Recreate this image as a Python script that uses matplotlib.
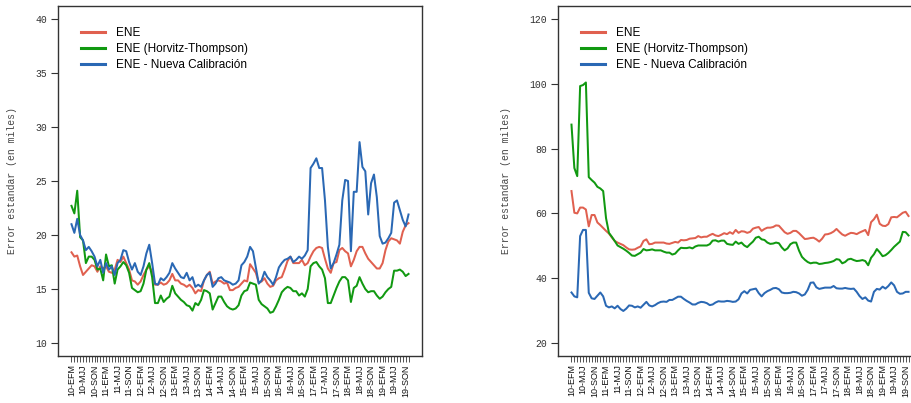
import matplotlib
matplotlib.use("Agg")
import matplotlib.pyplot as plt
import numpy as np

# ---- data ----
years = [str(y)[2:] for y in range(2010, 2020)]
trimestres = ["EFM", "FMA", "MAM", "AMJ", "MJJ", "JJA", "JAS", "ASO", "SON", "OND", "NDE", "DEF"]
periodos = [f"{y}-{t}" for y in years for t in trimestres][:118]

series_names = ["ENE", "ENE (Horvitz-Thompson)", "ENE - Nueva Calibración"]
colors = ["#E0604F", "#119911", "#2A68B4"]

left_ene = [18.4, 18.0, 18.1, 17.1, 16.3, 16.6, 16.9, 17.2, 17.1, 16.6, 17.1, 16.9, 17.1, 16.6, 16.5, 16.8,
            17.7, 17.5, 18.0, 17.4, 16.8, 15.8, 15.7, 15.4, 15.7, 16.3, 16.8, 17.1, 16.6, 15.4, 15.4, 15.6,
            15.4, 15.5, 15.8, 16.4, 15.8, 15.8, 15.5, 15.4, 15.2, 15.4, 15.1, 14.6, 14.9, 14.8, 15.8, 16.3,
            16.6, 15.5, 15.7, 15.8, 15.7, 15.5, 15.6, 14.9, 14.9, 15.1, 15.2, 15.5, 15.8,
            15.7, 17.3, 16.9, 16.5, 15.6, 15.7, 16.0, 15.5, 15.2, 15.3, 15.8, 16.0, 16.1, 16.8, 17.6, 18.0,
            17.4, 17.4, 17.4, 17.7, 17.2, 17.4, 18.0, 18.5, 18.8, 18.9, 18.8, 17.8, 16.9, 16.5, 17.4, 17.5,
            18.6, 18.8, 18.5, 18.3, 17.1, 17.7, 18.5, 18.9, 18.9, 18.3, 17.8, 17.5, 17.2, 16.9, 16.9, 17.4,
            18.6, 19.4, 19.7, 19.6, 19.5, 19.2, 20.3, 20.9, 21.1]
left_ht = [22.7, 22.0, 24.1, 19.8, 19.5, 17.4, 18.0, 18.0, 17.7, 16.8, 16.9, 15.8, 18.2, 17.1, 17.2, 15.5,
           16.8, 17.1, 17.5, 17.2, 16.5, 15.1, 14.9, 14.7, 14.8, 15.5, 16.8, 17.4, 16.1, 13.7, 13.7, 14.4,
           13.8, 14.1, 14.3, 15.3, 14.6, 14.3, 14.0, 13.8, 13.5, 13.4, 13.0, 13.7, 13.5, 14.0, 14.9, 14.8,
           14.6, 13.1, 13.7, 14.3, 14.3, 13.8, 13.4, 13.2, 13.1, 13.2, 13.5, 14.4, 14.8,
           14.9, 15.6, 15.5, 15.4, 14.0, 13.6, 13.4, 13.2, 12.8, 12.9, 13.4, 14.0, 14.7, 15.0, 15.2, 15.1,
           14.8, 14.8, 14.4, 14.6, 14.3, 15.0, 17.1, 17.4, 17.5, 17.1, 16.8, 16.0, 13.7, 13.7, 14.4, 15.1,
           15.7, 16.1, 16.1, 15.8, 13.8, 15.1, 15.3, 16.1, 15.5, 15.0, 14.7, 14.8, 14.8, 14.4, 14.1, 14.3,
           14.7, 15.0, 15.2, 16.7, 16.7, 16.8, 16.6, 16.2, 16.4]
left_nc = [21.0, 20.2, 21.5, 20.0, 19.5, 18.6, 18.9, 18.5, 18.0, 17.1, 17.7, 16.5, 17.4, 16.8, 17.1, 16.3,
           17.4, 17.7, 18.6, 18.5, 17.5, 16.8, 17.4, 16.6, 16.3, 17.1, 18.3, 19.1, 17.4, 15.5, 15.4, 16.0,
           15.8, 16.1, 16.5, 17.4, 16.9, 16.5, 16.1, 16.0, 16.5, 15.8, 16.1, 15.2, 15.4, 15.2, 15.8, 16.3,
           16.5, 15.2, 15.5, 16.0, 16.1, 15.8, 15.7, 15.6, 15.4, 15.5, 15.8, 17.2, 17.5,
           18.0, 18.9, 18.5, 17.0, 15.5, 15.8, 16.6, 16.1, 15.8, 15.4, 16.1, 17.0, 17.4, 17.7, 17.8, 18.0,
           17.5, 17.7, 18.0, 17.8, 18.1, 18.6, 26.2, 26.6, 27.1, 26.2, 26.2, 23.2, 18.9, 16.9, 17.4, 18.2,
           19.1, 23.2, 25.1, 25.0, 18.5, 24.0, 24.0, 28.6, 26.3, 25.9, 21.9, 24.8, 25.6, 23.5, 19.9, 19.2,
           19.3, 19.7, 20.2, 23.0, 23.2, 22.3, 21.4, 20.8, 21.9]

right_ene = [66.9, 60.2, 60.0, 61.8, 61.8, 61.2, 56.0, 59.5, 59.5, 57.2, 56.4, 55.5, 54.6, 53.8, 52.6, 51.5,
             51.0, 50.6, 50.2, 49.5, 48.9, 48.8, 48.9, 49.4, 49.8, 51.5, 52.0, 50.5, 50.6, 51.0, 51.0, 51.0,
             51.0, 50.7, 50.6, 50.9, 51.2, 51.0, 51.8, 51.7, 51.8, 52.2, 52.3, 52.4, 53.0, 52.6, 52.8, 52.8,
             53.3, 53.7, 53.2, 53.0, 53.4, 53.9, 53.6, 54.2, 53.7, 54.9, 54.0, 54.5, 54.4, 54.0, 54.3, 55.3,
             55.6, 55.8, 54.6, 55.2, 55.6, 55.6, 55.8, 56.3, 56.2, 55.2, 54.2, 53.7, 54.0, 54.6, 54.6, 53.9,
             53.0, 52.1, 52.2, 52.4, 52.5, 52.0, 51.3, 52.2, 53.5, 53.6, 53.9, 54.4, 55.2, 54.3, 53.5, 53.1,
             53.6, 54.0, 53.9, 53.6, 54.1, 54.5, 54.9, 53.3, 57.3, 58.2, 59.6, 56.8, 56.2, 56.1, 56.7, 58.8,
             58.9, 58.8, 59.5, 60.2, 60.5, 59.2]
right_ht = [87.4, 74.0, 71.5, 99.3, 99.6, 100.4, 71.2, 70.3, 69.5, 68.2, 67.7, 66.9, 58.5, 54.0, 52.8, 51.5,
            50.1, 49.6, 49.1, 48.5, 47.8, 47.0, 46.9, 47.4, 47.9, 49.0, 48.6, 48.7, 48.9, 48.6, 48.6, 48.6,
            48.2, 47.9, 47.9, 47.3, 47.6, 48.6, 49.4, 49.3, 49.3, 49.5, 49.2, 49.8, 50.1, 50.1, 50.1, 50.1,
            50.5, 51.6, 51.7, 51.3, 51.6, 51.6, 50.6, 50.4, 50.3, 51.3, 50.6, 51.0, 50.1, 49.6, 50.5, 51.3,
            52.5, 52.8, 52.0, 51.8, 51.0, 50.6, 50.7, 51.0, 50.8, 49.5, 48.6, 49.2, 50.5, 51.0, 51.0, 48.5,
            46.6, 45.7, 45.0, 44.6, 44.8, 44.8, 44.4, 44.5, 44.7, 44.8, 45.0, 45.3, 45.9, 45.7, 44.6, 45.0,
            45.8, 46.0, 45.6, 45.3, 45.4, 45.6, 45.3, 44.0, 46.3, 47.4, 49.0, 48.0, 46.8, 47.1, 47.8, 48.7,
            49.7, 50.5, 51.3, 54.3, 54.2, 53.2]
right_nc = [35.6, 34.4, 34.1, 53.0, 54.9, 54.9, 35.5, 33.8, 33.6, 34.6, 35.6, 34.4, 31.5, 31.0, 31.3, 30.7,
            31.5, 30.5, 29.9, 30.6, 31.6, 31.5, 31.0, 31.3, 30.9, 31.8, 32.7, 31.6, 31.3, 31.7, 32.3, 32.7,
            32.8, 32.7, 33.3, 33.3, 33.8, 34.3, 34.3, 33.6, 33.0, 32.5, 31.9, 31.9, 32.4, 32.7, 32.6, 32.3,
            31.7, 31.9, 32.5, 32.9, 32.8, 32.8, 33.0, 32.9, 32.7, 32.8, 33.5, 35.3, 36.0, 35.3, 36.4, 36.6,
            36.8, 35.4, 34.4, 35.4, 36.0, 36.4, 36.9, 37.0, 36.6, 35.6, 35.4, 35.4, 35.5, 35.8, 35.7, 35.3,
            34.6, 35.0, 36.4, 38.6, 38.7, 37.2, 36.7, 36.9, 37.1, 37.1, 37.1, 37.6, 36.9, 36.8, 36.8, 37.0,
            36.8, 36.7, 36.8, 35.8, 34.5, 33.6, 34.1, 33.1, 32.8, 35.8, 36.7, 36.5, 37.4, 36.8, 37.6, 38.7,
            37.8, 35.8, 35.2, 35.3, 35.8, 35.8]

left_yticks = [10, 15, 20, 25, 30, 35, 40]
right_yticks = [20, 40, 60, 80, 100, 120]

# ---- figure ----
W, H = 911, 403
fig = plt.figure(figsize=(W / 100, H / 100), dpi=100)

def make_axes(x0, x1, y_top, y_bot):
    return fig.add_axes([x0 / W, 1 - y_bot / H, (x1 - x0) / W, (y_bot - y_top) / H])

axL = make_axes(58, 422, 6, 356)
axR = make_axes(558, 922, 6, 356)

mono = "Liberation Mono"
x = np.arange(len(periodos))

for ax, data, yt in [(axL, [left_ene, left_ht, left_nc], left_yticks),
                     (axR, [right_ene, right_ht, right_nc], right_yticks)]:
    for vals, c, name in zip(data, colors, series_names):
        ax.plot(x[:len(vals)], vals, color=c, lw=1.45, label=name, solid_joinstyle="round")
    rng = yt[-1] - yt[0]
    ax.set_ylim(yt[0] - 0.04 * rng, yt[-1] + 0.04 * rng)
    n = len(periodos) - 1
    ax.set_xlim(-0.04 * n, n + 0.04 * n)
    ax.set_yticks(yt)
    ax.set_yticklabels([str(v) for v in yt], fontfamily=mono, fontsize=7, color="#333333")
    ax.set_xticks(x)
    ax.set_xticklabels([p if i % 4 == 0 else "" for i, p in enumerate(periodos)],
                       rotation=90, fontsize=6.5, fontfamily="Liberation Sans", color="#111111")
    ax.tick_params(axis="y", length=5, width=0.8, color="#333333", pad=3)
    ax.tick_params(axis="x", length=4, width=0.6, color="#333333", pad=2)
    for s in ax.spines.values():
        s.set_color("#333333")
        s.set_linewidth(1.0)
    ax.set_ylabel("Error estandar (en miles)", fontfamily=mono, fontsize=7, color="#444444", labelpad=13)
    leg = ax.legend(loc="upper left", frameon=False, handlelength=2.0,
                    handletextpad=0.95, labelspacing=0.32, bbox_to_anchor=(0.035, 0.97),
                    prop={"family": "Liberation Sans", "size": 8.5})
    for line in leg.get_lines():
        line.set_linewidth(2.2)

fig.savefig("out.png", dpi=100)
